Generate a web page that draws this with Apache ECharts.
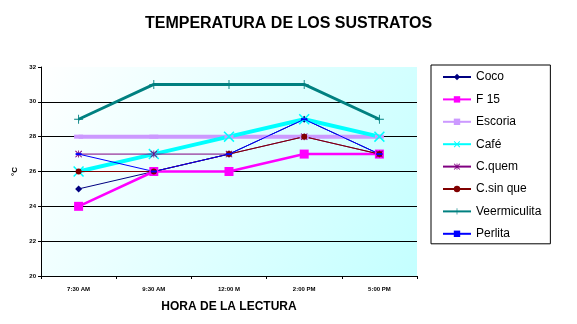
<!DOCTYPE html>
<html>
<head>
<meta charset="utf-8">
<script src="https://cdn.jsdelivr.net/npm/echarts@6/dist/echarts.min.js"></script>
<style>
  html, body { margin: 0; padding: 0; background: #ffffff; }
  #chart { width: 577px; height: 324px; }
</style>
</head>
<body>
<div id="chart"></div>
<script>
// Reading times
const horas = ['7:30 AM', '9:30 AM', '12:00 M', '2:00 PM', '5:00 PM'];

// Substrate temperatures (°C)
const coco         = [25, 26, 27, 29, 27];
const f15          = [24, 26, 26, 27, 27];
const escoria      = [28, 28, 28, 28, 28];
const cafe         = [26, 27, 28, 29, 28];
const cQuem        = [27, 27, 27, 28, 27];
const cSinQue      = [26, 26, 27, 28, 27];
const veermiculita = [29, 31, 31, 31, 29];
const perlita      = [27, 26, 27, 29, 27];

const FONT = '"Liberation Sans", Arial, sans-serif';

const SYM_X = 'path://M0,1L1,0L10,9L9,10Z M9,0L10,1L1,10L0,9Z';
const SYM_PLUS = 'path://M4.5,0h1v10h-1z M0,4.5h10v1h-10z';
const SYM_STAR = 'path://M0,1L1,0L10,9L9,10Z M9,0L10,1L1,10L0,9Z M4.4,0h1.2v10h-1.2z';

function serie(name, data, color, width, symbol, size) {
  return {
    name: name,
    type: 'line',
    data: data,
    symbol: symbol,
    symbolSize: size,
    showSymbol: true,
    animation: false,
    lineStyle: { color: color, width: width },
    itemStyle: { color: color, borderWidth: 0 },
    emphasis: { disabled: true }
  };
}

const chart = echarts.init(document.getElementById('chart'));
chart.setOption({
  animation: false,
  title: {
    text: 'TEMPERATURA DE LOS SUSTRATOS',
    left: 'center',
    top: 11,
    textStyle: { fontFamily: FONT, fontSize: 16, fontWeight: 'bold', color: '#000' }
  },
  grid: {
    left: 41, right: 160, top: 67, bottom: 48,
    show: true,
    borderWidth: 0,
    backgroundColor: new echarts.graphic.LinearGradient(0, 0, 1, 1, [
      { offset: 0, color: '#ffffff' },
      { offset: 1, color: '#c4ffff' }
    ])
  },
  legend: {
    orient: 'vertical',
    left: 431,
    top: 65,
    padding: [6, 9, 4, 11],
    itemGap: 10.4,
    itemWidth: 28,
    itemHeight: 8,
    borderColor: '#000',
    borderWidth: 1,
    backgroundColor: '#fff',
    textStyle: { fontFamily: FONT, fontSize: 12, color: '#000' },
    data: ['Coco', 'F 15', 'Escoria', 'Café', 'C.quem', 'C.sin que', 'Veermiculita', 'Perlita']
  },
  xAxis: {
    type: 'category',
    data: horas,
    boundaryGap: true,
    name: 'HORA DE LA LECTURA',
    nameLocation: 'middle',
    nameGap: 25,
    nameTextStyle: { fontFamily: FONT, fontSize: 12, fontWeight: 'bold', color: '#000' },
    axisLine: { lineStyle: { color: '#000', width: 1 } },
    axisTick: { show: true, length: 3, lineStyle: { color: '#000' } },
    axisLabel: { fontFamily: FONT, fontSize: 6, fontWeight: 'bold', color: '#000', margin: 10 },
    splitLine: { show: false }
  },
  yAxis: {
    type: 'value',
    min: 20,
    max: 32,
    interval: 2,
    name: '°C',
    nameLocation: 'middle',
    nameRotate: 90,
    nameGap: 17,
    nameTextStyle: { fontFamily: FONT, fontSize: 8, fontWeight: 'bold', color: '#000' },
    axisLine: { show: true, lineStyle: { color: '#000', width: 1 } },
    axisTick: { show: true, length: 3, lineStyle: { color: '#000' } },
    axisLabel: { fontFamily: FONT, fontSize: 6, fontWeight: 'bold', color: '#000', margin: 5 },
    splitLine: { show: true, showMinLine: false, showMaxLine: false, lineStyle: { color: '#000', width: 1 } }
  },
  series: [
    serie('Coco', coco, '#000080', 1, 'diamond', 7),
    serie('F 15', f15, '#ff00ff', 2.5, 'rect', 9),
    serie('Escoria', escoria, '#cc99ff', 4, 'rect', [9, 4]),
    serie('Café', cafe, '#00ffff', 4, SYM_X, 11),
    serie('C.quem', cQuem, '#800080', 1, SYM_STAR, 7),
    serie('C.sin que', cSinQue, '#800000', 1, 'circle', 6),
    serie('Veermiculita', veermiculita, '#008080', 3, SYM_PLUS, 9),
    serie('Perlita', perlita, '#0000ff', 1, 'rect', [6, 2])
  ]
});
</script>
</body>
</html>
